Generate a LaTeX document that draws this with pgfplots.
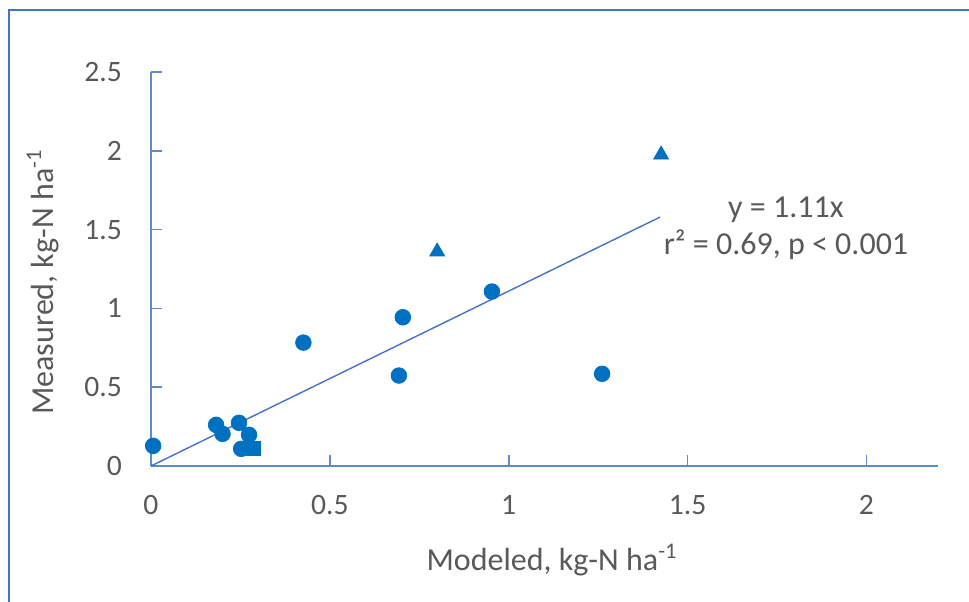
\documentclass[border=0pt]{standalone}
\usepackage{fontspec}
\setmainfont{Carlito}
\usepackage{pgfplots}
\pgfplotsset{compat=1.18}

\definecolor{axblue}{HTML}{5B8BC9}
\definecolor{mkblue}{HTML}{0070C0}
\definecolor{lnblue}{HTML}{4472C4}
\definecolor{txtgray}{HTML}{595959}

\begin{document}
\begin{tikzpicture}
% 1 px of the reference = 0.5pt, origin of the axis at (0,0)
\useasboundingbox (-75.5pt,-67.5pt) rectangle (409pt,233pt);
\clip (-75.5pt,-67.5pt) rectangle (409pt,233pt);
\draw[lnblue, line width=1pt] (-71pt,-90pt) rectangle (430pt,228pt);

\begin{axis}[
    anchor=origin,
    at={(0,0)},
    scale only axis,
    width=393.5pt,
    height=197pt,
    xmin=0, xmax=2.2,
    ymin=0, ymax=2.5,
    axis x line*=bottom,
    axis y line*=left,
    axis line style={axblue, line width=0.8pt},
    xtick={0,0.5,1,1.5,2},
    ytick={0,0.5,1,1.5,2,2.5},
    xticklabels={0,0.5,1,1.5,2},
    yticklabels={0,0.5,1,1.5,2,2.5},
    tick align=inside,
    major tick length=5.5pt,
    tick style={axblue, line width=0.8pt},
    tick label style={font=\fontsize{14.8}{17}\selectfont, text=txtgray},
    yticklabel style={anchor=east, xshift=-11pt},
    xticklabel style={anchor=north, yshift=-11pt},
    clip=false,
]

% trend line y = 1.11x
\addplot[lnblue, line width=0.7pt, no marks] coordinates {(0,0) (1.423,1.5795)};

% circles
\addplot[only marks, mark=*, mark size=3.9pt, mkblue, mark options={fill=mkblue, draw=mkblue}] coordinates {
    (0.006,0.128) (0.182,0.261) (0.200,0.204) (0.246,0.274) (0.274,0.198)
    (0.252,0.109) (0.426,0.783) (0.704,0.944) (0.693,0.574) (0.953,1.107)
    (1.261,0.585)
};
% square
\addplot[only marks, mark=square*, mark size=3.5pt, mkblue, mark options={fill=mkblue, draw=mkblue}] coordinates {
    (0.285,0.109)
};
% triangles
\addplot[only marks, mark=triangle*, mark size=4.3pt, mkblue, mark options={fill=mkblue, draw=mkblue}] coordinates {
    (0.800,1.36) (1.426,1.975)
};

\node[text=txtgray, font=\fontsize{16}{18.5}\selectfont, align=center] at (axis cs:1.775,1.51) {y = 1.11x\\r² = 0.69, p < 0.001};
\end{axis}

\node[text=txtgray, font=\fontsize{16}{19}\selectfont] at (200.5pt,-47pt) {Modeled, kg-N ha\textsuperscript{-1}};
\node[text=txtgray, font=\fontsize{16}{19}\selectfont, rotate=90] at (-54pt,92pt) {Measured, kg-N ha\textsuperscript{-1}};
\end{tikzpicture}
\end{document}
